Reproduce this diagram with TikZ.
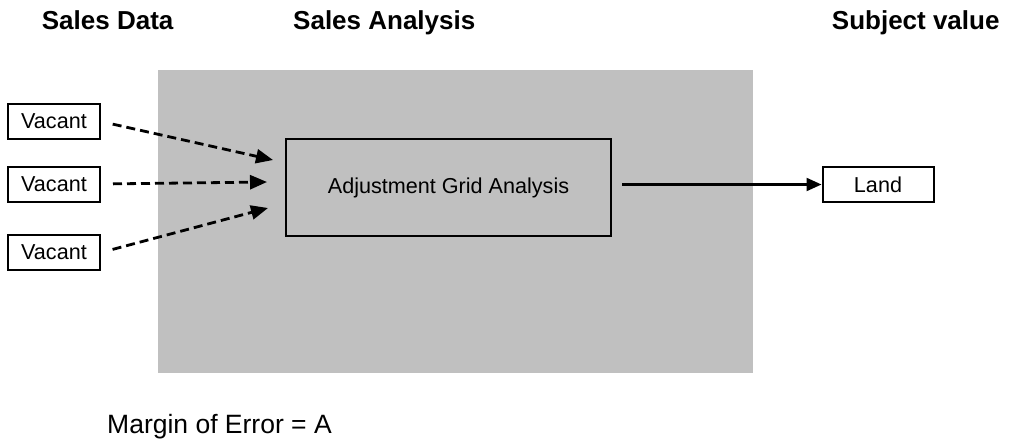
\documentclass[tikz,border=0pt]{standalone}
\usepackage{fontspec}
\setmainfont{Liberation Sans}
\usetikzlibrary{arrows.meta,positioning}

\definecolor{areagray}{RGB}{192,192,192}

\tikzstyle{heading}=[anchor=base west, inner sep=0pt, font=\bfseries\fontsize{26}{30}\selectfont]
\tikzstyle{srcbox}=[draw, line width=2pt, minimum width=92pt, minimum height=35pt, inner sep=0pt, font=\fontsize{21.6}{26}\selectfont]
\tikzstyle{dasharrow}=[draw, line width=2.8pt, dash pattern=on 9pt off 5pt, -{Triangle[length=17pt,width=14pt]}, shorten <=12pt]
\tikzstyle{solidarrow}=[draw, line width=2.2pt, -{Triangle[length=15pt,width=13pt]}, shorten <=10pt]

\begin{document}
\begin{tikzpicture}[x=1pt, y=-1pt]
	\useasboundingbox (0,0) rectangle (1011,441);
	% column titles
	\node[heading] (data) at (41.7,29.3) {Sales Data};
	\node[heading] (analysis) at (293,29.3) {Sales Analysis};
	\node[heading] (subject) at (831.7,29.3) {Subject value};
	% analysis area
	\fill[areagray] (158,70) rectangle (753,373);
	\node[srcbox, minimum width=325pt, minimum height=97pt] (adj) at (448.5,187.5) {Adjustment Grid Analysis};
	\node[srcbox, minimum width=111pt] (land) at (878,184.5) {Land};
	% sales
	\foreach \pos/\name in {{(54,121.5)/v1}, {(54,184)/v2}, {(54,252.5)/v3}}
		\node[srcbox] (\name) at \pos {Vacant};
	\coordinate (t1) at (273,160);
	\coordinate (t2) at (267,182);
	\coordinate (t3) at (268,208);
	\foreach \src/\tgt in {v1/t1, v2/t2, v3/t3}
		\path[dasharrow] (\src.east) -- (\tgt);
	\path[solidarrow] (adj.east |- land.west) -- (land.west);
	\node[anchor=base west, inner sep=0pt, font=\fontsize{26.5}{30}\selectfont] (moe) at (107,433) {Margin of Error = A};
\end{tikzpicture}
\end{document}
